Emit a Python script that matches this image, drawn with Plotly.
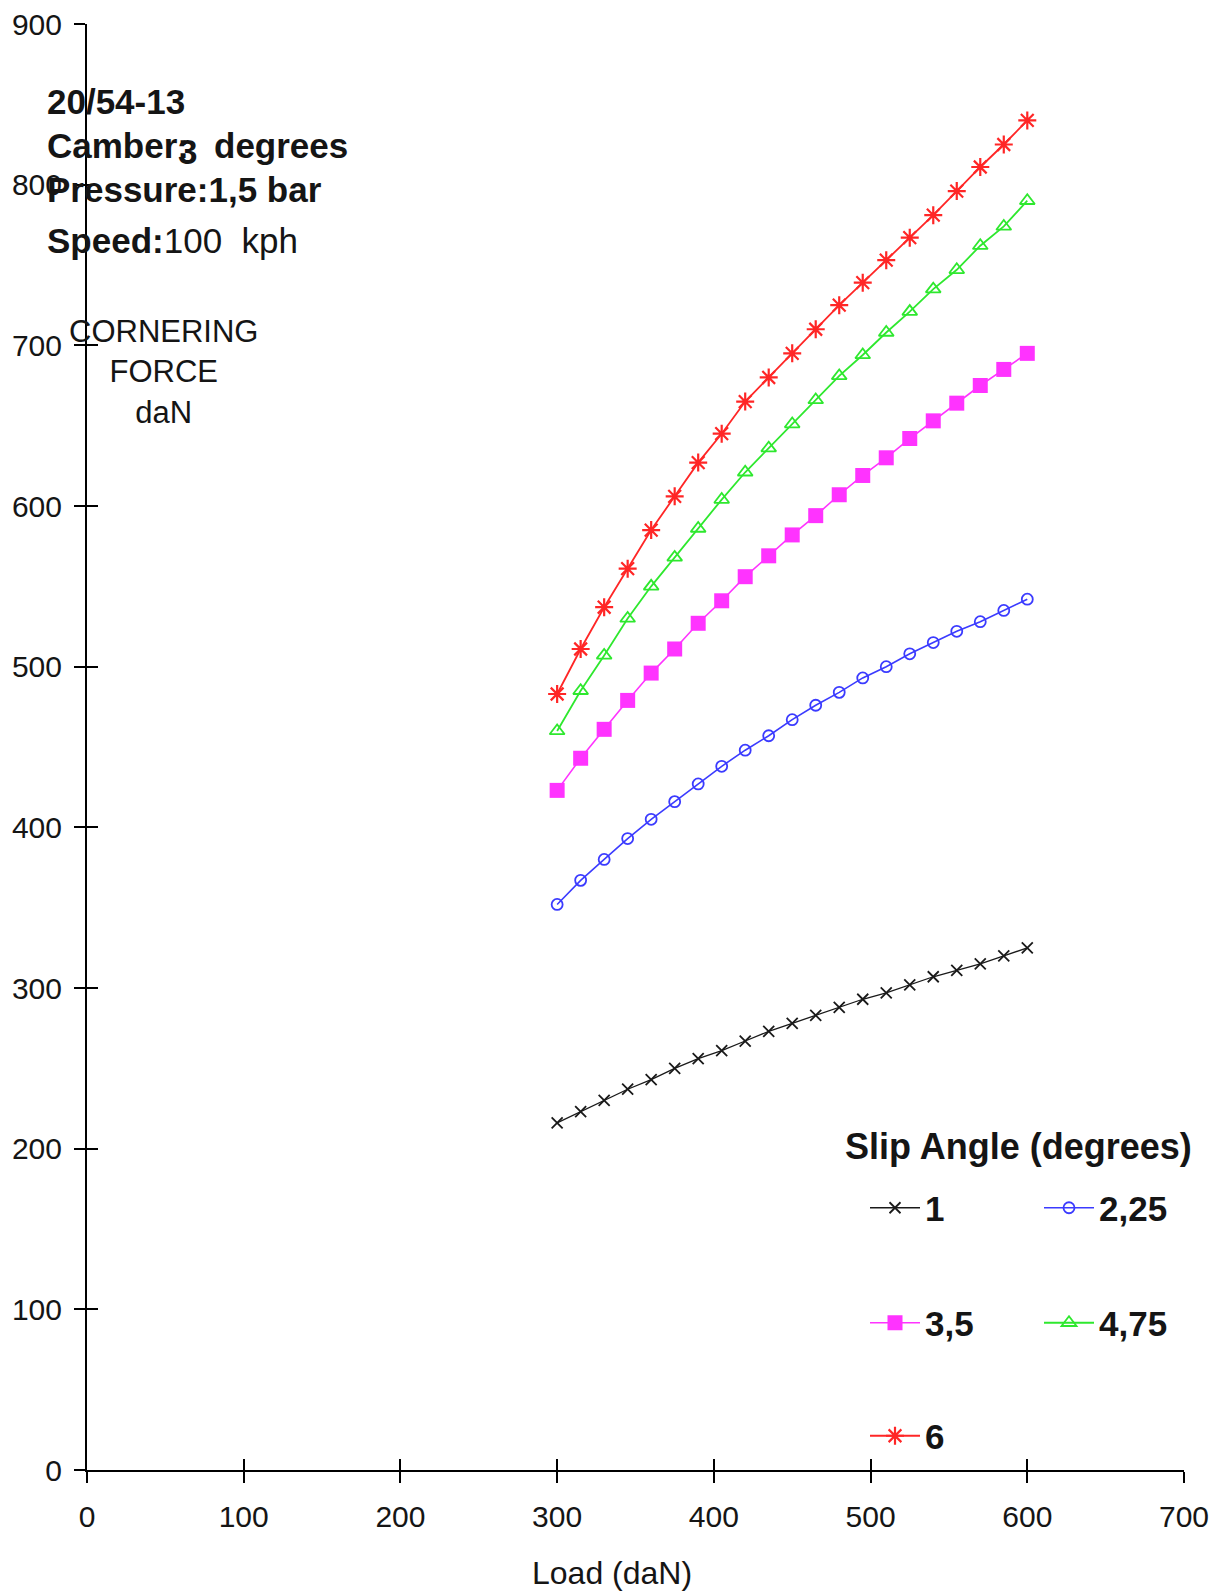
import plotly.graph_objects as go

# Load (daN) at which the cornering force was measured
load = [300, 315, 330, 345, 360, 375, 390, 405, 420, 435, 450,
        465, 480, 495, 510, 525, 540, 555, 570, 585, 600]

# Cornering force (daN) for each slip angle
force_1 = [216, 223, 230, 237, 243, 250, 256, 261, 267, 273, 278,
           283, 288, 293, 297, 302, 307, 311, 315, 320, 325]
force_2_25 = [352, 367, 380, 393, 405, 416, 427, 438, 448, 457, 467,
              476, 484, 493, 500, 508, 515, 522, 528, 535, 542]
force_3_5 = [423, 443, 461, 479, 496, 511, 527, 541, 556, 569, 582,
             594, 607, 619, 630, 642, 653, 664, 675, 685, 695]
force_4_75 = [460, 485, 507, 530, 550, 568, 586, 604, 621, 636, 651,
              666, 681, 694, 708, 721, 735, 747, 762, 774, 790]
force_6 = [483, 511, 537, 561, 585, 606, 627, 645, 665, 680, 695,
           710, 725, 739, 753, 767, 781, 796, 811, 825, 840]

slip_labels = ["1", "2,25", "3,5", "4,75", "6"]
x_ticks = [0, 100, 200, 300, 400, 500, 600, 700]
y_ticks = [0, 100, 200, 300, 400, 500, 600, 700, 800, 900]

FONT = "Liberation Sans, Arial, sans-serif"
INK = "#151515"

W, H = 1225, 1593
L, R, T, B = 87, 41, 24, 123
PW, PH = W - L - R, H - T - B


def px(xp):
    return (xp - L) / PW


def py(yp):
    return (H - B - yp) / PH


# (values, colour, marker, line width, legend box, legend entry width)
series = [
    (force_1, "#1a1a1a", dict(symbol="x-thin-open", size=11,
                               line=dict(width=1.8, color="#1a1a1a")), 1.3, "legend", 109),
    (force_2_25, "#3b3bff", dict(symbol="circle-open", size=11,
                                  line=dict(width=1.8, color="#3b3bff")), 1.6, "legend", 75),
    (force_3_5, "#ff33ff", dict(symbol="square", size=15, color="#ff33ff",
                                 line=dict(width=0)), 1.6, "legend2", 109),
    (force_4_75, "#2ee82e", dict(symbol="triangle-up-open", size=13,
                                  line=dict(width=1.8, color="#2ee82e")), 1.8, "legend2", 75),
    (force_6, "#ff2626", dict(symbol="asterisk-open", size=15,
                               line=dict(width=2.2, color="#ff2626")), 1.8, "legend3", 75),
]

fig = go.Figure()
for (vals, color, marker, lw, leg, lwidth), name in zip(series, slip_labels):
    fig.add_trace(go.Scatter(
        x=load, y=vals, name=name, mode="lines+markers",
        line=dict(color=color, width=lw), marker=marker,
        legend=leg, legendwidth=lwidth, cliponaxis=False,
    ))

# companion axes carrying the inner half of the crossing tick marks
fig.add_trace(go.Scatter(x=[], y=[], xaxis="x2", yaxis="y2",
                         showlegend=False, hoverinfo="skip"))

axis_common = dict(showgrid=False, zeroline=False, showline=True,
                   linecolor="black", linewidth=2, ticks="outside",
                   ticklen=11, tickwidth=2, tickcolor="black")

legend_common = dict(orientation="h", xanchor="left", yanchor="middle",
                     entrywidthmode="pixels", itemwidth=50,
                     bgcolor="rgba(0,0,0,0)", borderwidth=0,
                     font=dict(family=FONT, size=35, color=INK, weight="bold"),
                     itemclick=False, itemdoubleclick=False)

fig.update_layout(
    width=W, height=H,
    margin=dict(l=L, r=R, t=T, b=B, pad=0, autoexpand=False),
    paper_bgcolor="white", plot_bgcolor="white",
    font=dict(family=FONT, color=INK),
    xaxis=dict(range=[0, 700], tickvals=x_ticks, ticktext=[str(v) for v in x_ticks],
               tickfont=dict(family=FONT, size=30, color=INK),
               ticklabelstandoff=8, **axis_common),
    yaxis=dict(range=[0, 900], tickvals=y_ticks, ticktext=[str(v) for v in y_ticks],
               tickfont=dict(family=FONT, size=30, color=INK),
               ticklabelstandoff=6, **axis_common),
    xaxis2=dict(range=[0, 700], overlaying="x", anchor="y2", side="bottom",
                tickvals=x_ticks, showticklabels=False, showgrid=False,
                zeroline=False, showline=False, ticks="inside", ticklen=11,
                tickwidth=2, tickcolor="black"),
    yaxis2=dict(range=[0, 900], overlaying="y", anchor="x2", side="left",
                tickvals=y_ticks, showticklabels=False, showgrid=False,
                zeroline=False, showline=False, ticks="inside", ticklen=11,
                tickwidth=2, tickcolor="black"),
    legend=dict(x=px(865), y=py(1208), **legend_common),
    legend2=dict(x=px(865), y=py(1323), **legend_common),
    legend3=dict(x=px(865), y=py(1436), **legend_common),
    showlegend=True,
)

bold = dict(family=FONT, size=35, color=INK, weight="bold")
plain = dict(family=FONT, size=31, color=INK)

notes = [
    ("<b>20/54-13</b>", 45, 101, bold, "left"),
    ("<b>Camber:</b>", 45, 145, bold, "left"),
    ("<b>3</b>", 176, 151, bold, "left"),
    ("<b>degrees</b>", 212, 145, bold, "left"),
    ("<b>Pressure:1,5\u00a0bar</b>", 45, 189, bold, "left"),
    ("<b>Speed:</b>100\u00a0\u00a0kph", 45, 240, dict(family=FONT, size=35, color=INK), "left"),
    ("CORNERING<br>FORCE<br>daN", 163, 372, plain, "center"),
    ("<b>Slip Angle (degrees)</b>", 1018, 1146, dict(family=FONT, size=36, color=INK), "center"),
    ("Load (daN)", 612, 1573, dict(family=FONT, size=32, color=INK), "center"),
]
for text, xp, yp, font, anchor in notes:
    fig.add_annotation(text=text, xref="paper", yref="paper", x=px(xp), y=py(yp),
                       xanchor=anchor, yanchor="middle", showarrow=False,
                       font=font, align="center")

fig.write_html("out.html")
